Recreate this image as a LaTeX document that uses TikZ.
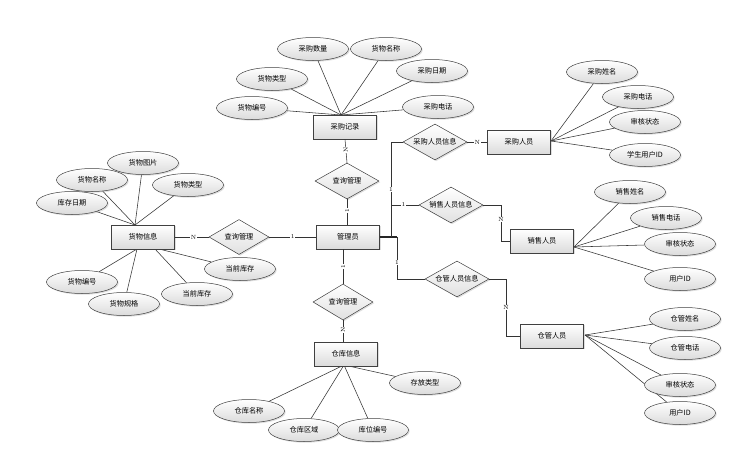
\documentclass[tikz,border=0pt]{standalone}
\usepackage{fontspec}
\newfontfamily\cjk{Noto Sans CJK SC}
\usetikzlibrary{shapes.geometric,shadows,backgrounds}
\begin{document}
\begin{tikzpicture}[x=1pt,y=-1pt,
  every node/.style={font=\cjk\fontsize{7.2}{9}\selectfont},
  shd/.style={drop shadow={shadow xshift=1.2pt,shadow yshift=-1.2pt,opacity=0.25}},
  ent/.style={draw=black!75,line width=0.6pt,top color=white,bottom color=black!14,minimum width=63pt,minimum height=24pt,inner sep=0pt,shd},
  att/.style={ellipse,draw=black!75,line width=0.5pt,top color=white,bottom color=black!14,minimum width=71pt,minimum height=23pt,inner sep=0pt,shd},
  rel/.style={diamond,aspect=1.8,draw=black!75,line width=0.5pt,top color=white,bottom color=black!12,minimum width=64pt,minimum height=36pt,inner sep=0pt,shd},
  ln/.style={draw=black!80,line width=0.55pt},
  thk/.style={draw=black!85,line width=1.6pt},
  lbl/.style={font=\normalfont\fontsize{6}{6}\selectfont,fill=white,inner sep=0.6pt},
  vlbl/.style={lbl,rotate=90}]
\useasboundingbox (0,0) rectangle (751,455);

% entities
\node[ent] (cgjl) at (345,127) {采购记录};
\node[ent] (gly) at (348,237) {管理员};
\node[ent] (hwxx) at (143,237) {货物信息};
\node[ent] (ckxx) at (346,354) {仓库信息};
\node[ent] (cgry) at (519,142) {采购人员};
\node[ent] (xsry) at (542,241) {销售人员};
\node[ent] (ckry) at (552,336) {仓管人员};

% relationships
\node[rel] (r1) at (347,181) {查询管理};
\node[rel,minimum width=60pt,minimum height=35pt] (r2) at (239,237) {查询管理};
\node[rel,minimum width=60pt] (r3) at (343,302) {查询管理};
\node[rel] (r4) at (435,142) {采购人员信息};
\node[rel] (r5) at (451,205) {销售人员信息};
\node[rel] (r6) at (457,279) {仓管人员信息};

% attributes of 采购记录
\node[att] (a1) at (313,49) {采购数量};
\node[att] (a2) at (386,49) {货物名称};
\node[att] (a3) at (272,79) {货物类型};
\node[att] (a4) at (432,71) {采购日期};
\node[att] (a5) at (252,108) {货物编号};
\node[att] (a6) at (438,107) {采购电话};

% attributes of 货物信息
\node[att] (b1) at (143,163) {货物图片};
\node[att] (b2) at (92,180) {货物名称};
\node[att] (b3) at (188,185) {货物类型};
\node[att] (b4) at (72,203) {库存日期};
\node[att] (b5) at (240,269) {当前库存};
\node[att] (b6) at (197,294) {当前库存};
\node[att] (b7) at (82,282) {货物编号};
\node[att] (b8) at (124,304) {货物规格};

% attributes of 仓库信息
\node[att] (c1) at (425,383) {存放类型};
\node[att] (c2) at (249,411) {仓库名称};
\node[att] (c3) at (304,430) {仓库区域};
\node[att] (c4) at (373,430) {库位编号};

% attributes of 采购人员
\node[att] (d1) at (602,72) {采购姓名};
\node[att] (d2) at (638,97) {采购电话};
\node[att] (d3) at (645,122) {审核状态};
\node[att] (d4) at (645,155) {学生用户ID};

% attributes of 销售人员
\node[att] (e1) at (630,192) {销售姓名};
\node[att] (e2) at (666,218) {销售电话};
\node[att] (e3) at (680,244) {审核状态};
\node[att] (e4) at (680,279) {用户ID};

% attributes of 仓管人员
\node[att] (f1) at (685,319) {仓管姓名};
\node[att] (f2) at (685,348) {仓管电话};
\node[att] (f3) at (680,385) {审核状态};
\node[att] (f4) at (680,413) {用户ID};

% convergence points
\coordinate (p1) at (341,115);
\coordinate (p2) at (135,225);
\coordinate (p3) at (137,249);
\coordinate (p4) at (155,249);
\coordinate (p4b) at (159,249);
\coordinate (p5) at (344,365);
\coordinate (p6) at (551,141);
\coordinate (p7) at (574,247);
\coordinate (p8) at (585,335);

\begin{scope}[on background layer]
\fill[white] (0,0) rectangle (751,455);
\foreach \t in {a1,a2,a3,a4,a5,a6} \draw[ln] (p1) -- (\t);
\foreach \t in {b1,b2,b3,b4} \draw[ln] (p2) -- (\t);
\foreach \t in {b7,b8} \draw[ln] (p3) -- (\t);
\draw[ln] (p4) -- (b6);
\draw[ln] (p4b) -- (b5);
\foreach \t in {c1,c2,c3,c4} \draw[ln] (p5) -- (\t);
\foreach \t in {d1,d2,d3,d4} \draw[ln] (p6) -- (\t);
\foreach \t in {e1,e2,e3,e4} \draw[ln] (p7) -- (\t);
\foreach \t in {f1,f2,f3,f4} \draw[ln] (p8) -- (\t);
\end{scope}

% relationship connectors
\draw[ln] (cgjl.south) -- node[vlbl,pos=0.45]{N} (r1.north);
\draw[ln] (r1.south) -- node[vlbl,pos=0.45]{1} (r1.south |- gly.north);
\draw[ln] (gly.west) -- node[lbl]{1} (r2.east);
\draw[ln] (r2.west) -- node[lbl,pos=0.45]{N} (hwxx.east);
\draw[ln] (r3.north |- gly.south) -- node[vlbl]{1} (r3.north);
\draw[ln] (r3.south) -- node[vlbl,pos=0.45]{N} (r3.south |- ckxx.north);

\coordinate (j1) at (391,237);
\coordinate (j2) at (397,237);
\draw[thk] (gly.east) -- (j2);
\draw[ln] (j1) -- node[lbl,pos=0.5]{1} (j1 |- r4.west) -- (r4.west);
\draw[ln] (r4.east) -- node[lbl]{N} (cgry.west);
\draw[ln] (j1 |- r5.west) -- node[lbl,pos=0.45]{1} (r5.west);
\coordinate (c5) at (501,205);
\draw[ln] (r5.east) -- (c5) -- node[lbl,pos=0.4]{N} (c5 |- xsry.west) -- (xsry.west);
\draw[ln] (j2) -- node[lbl,pos=0.6]{1} (j2 |- r6.west) -- (r6.west);
\coordinate (c6) at (506,279);
\draw[ln] (r6.east) -- (c6) -- node[lbl,pos=0.5]{N} (c6 |- ckry.west) -- (ckry.west);
\end{tikzpicture}
\end{document}
